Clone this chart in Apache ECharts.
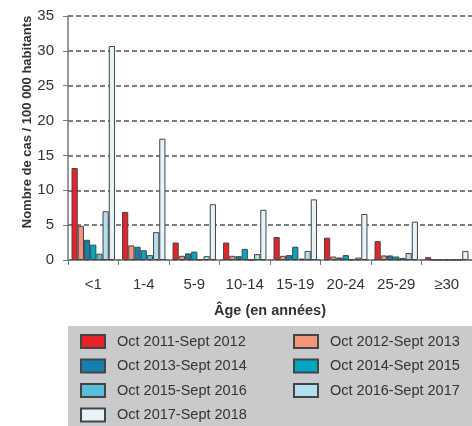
<!DOCTYPE html>
<html>
<head>
<meta charset="utf-8">
<script src="https://cdn.jsdelivr.net/npm/echarts@6/dist/echarts.min.js"></script>
<style>
  html, body { margin: 0; padding: 0; background: #fff; }
  #chart { width: 472px; height: 426px; }
</style>
</head>
<body>
<div id="chart"></div>
<script>
// tranches d'âge
var ageGroups = ['<1', '1-4', '5-9', '10-14', '15-19', '20-24', '25-29', '≥30'];

// taux par période (cas / 100 000 habitants)
var oct2011 = [13.2, 6.9, 2.5, 2.5, 3.3, 3.2, 2.7, 0.4];
var oct2012 = [4.9, 2.1, 0.6, 0.6, 0.6, 0.5, 0.65, 0.05];
var oct2013 = [2.9, 1.9, 0.95, 0.55, 0.7, 0.35, 0.65, 0.05];
var oct2014 = [2.2, 1.4, 1.2, 1.6, 1.9, 0.7, 0.5, 0.05];
var oct2015 = [0.9, 0.7, 0.1, 0.05, 0.2, 0.1, 0.3, 0.05];
var oct2016 = [7.0, 4.0, 0.55, 0.85, 1.3, 0.35, 1.0, 0.05];
var oct2017 = [30.7, 17.4, 8.0, 7.2, 8.7, 6.6, 5.5, 1.3];

var periodNames = [
    'Oct 2011-Sept 2012', 'Oct 2012-Sept 2013', 'Oct 2013-Sept 2014',
    'Oct 2014-Sept 2015', 'Oct 2015-Sept 2016', 'Oct 2016-Sept 2017',
    'Oct 2017-Sept 2018'
];
var periodData = [oct2011, oct2012, oct2013, oct2014, oct2015, oct2016, oct2017];
var periodColors = ['#e8222b', '#f4947a', '#1380ad', '#00a8c4', '#5bbedb', '#b3dfee', '#e6f4fa'];

var font = "'Liberation Sans', Arial, sans-serif";
var textColor = '#333';

var series = periodNames.map(function (name, i) {
    return {
        name: name,
        type: 'bar',
        data: periodData[i],
        barGap: '0%',
        barCategoryGap: '14%',
        itemStyle: {
            color: periodColors[i],
            borderColor: '#444',
            borderWidth: 1
        }
    };
});

var legendText = {
    fontFamily: font,
    fontSize: 14.5,
    color: textColor,
    lineHeight: 14,
    padding: [0, 0, 0, 7]
};

var myChart = echarts.init(document.getElementById('chart'));

myChart.setOption({
    animation: false,
    backgroundColor: '#fff',
    grid: {
        left: 68,
        right: 0,
        top: 16,
        bottom: 166,
        containLabel: false
    },
    graphic: [
        {
            type: 'rect',
            z: -10,
            shape: { x: 68, y: 326, width: 404, height: 100 },
            style: { fill: '#c9cacc' }
        },
        {
            type: 'text',
            x: 27,
            y: 122,
            rotation: Math.PI / 2,
            style: {
                text: 'Nombre de cas / 100 000 habitants',
                fontFamily: font,
                fontSize: 13,
                fontWeight: 'bold',
                fill: textColor,
                textAlign: 'center',
                textVerticalAlign: 'middle'
            }
        }
    ],
    legend: [
        {
            orient: 'vertical',
            left: 75,
            top: 329,
            height: 200,
            itemWidth: 24,
            itemHeight: 13,
            itemGap: 9.5,
            icon: 'rect',
            selectedMode: false,
            data: [periodNames[0], periodNames[2], periodNames[4], periodNames[6]],
            textStyle: legendText
        },
        {
            orient: 'vertical',
            left: 288,
            top: 329,
            height: 200,
            itemWidth: 24,
            itemHeight: 13,
            itemGap: 9.5,
            icon: 'rect',
            selectedMode: false,
            data: [periodNames[1], periodNames[3], periodNames[5]],
            textStyle: legendText
        }
    ],
    xAxis: {
        type: 'category',
        data: ageGroups,
        name: 'Âge (en années)',
        nameLocation: 'middle',
        nameGap: 43,
        nameTextStyle: {
            fontFamily: font,
            fontSize: 14.5,
            fontWeight: 'bold',
            color: textColor
        },
        axisLine: { lineStyle: { color: '#777', width: 1.5 } },
        axisTick: { show: true, length: 5, lineStyle: { color: '#777' } },
        axisLabel: {
            fontFamily: font,
            fontSize: 15,
            color: textColor,
            margin: 17
        }
    },
    yAxis: {
        type: 'value',
        min: 0,
        max: 35,
        interval: 5,
        axisLine: { show: true, lineStyle: { color: '#777', width: 1.5 } },
        axisTick: { show: true, length: 5, lineStyle: { color: '#777' } },
        axisLabel: {
            fontFamily: font,
            fontSize: 15,
            color: textColor,
            margin: 14
        },
        splitLine: {
            show: true,
            lineStyle: { color: '#555', type: [5, 3], width: 1.5 }
        }
    },
    series: series
});
</script>
</body>
</html>
